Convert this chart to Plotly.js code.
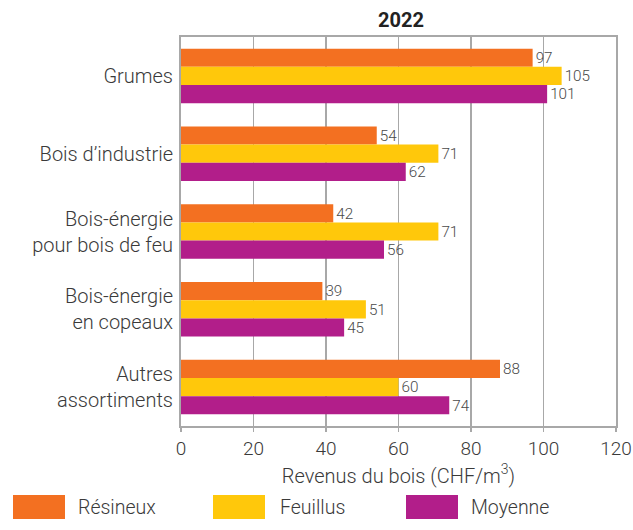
<!DOCTYPE html>
<html><head><meta charset="utf-8">
<script src="https://cdn.plot.ly/plotly-3.0.1.min.js"></script>
<style>body{margin:0;padding:0;background:#fff}#chart{width:633px;height:530px}</style>
</head><body><div id="chart"></div>
<script>
var categories = ["Grumes", "Bois d’industrie", "Bois-énergie<br>pour bois de feu", "Bois-énergie<br>en copeaux", "Autres<br>assortiments"];
var seriesNames = ["Résineux", "Feuillus", "Moyenne"];
var resineux = [97, 54, 42, 39, 88];
var feuillus = [105, 71, 71, 51, 60];
var moyenne = [101, 62, 56, 45, 74];
var xTicks = [0, 20, 40, 60, 80, 100, 120];
var colors = ["#F37021", "#FFC80B", "#B21E8A"];

var W = 633, H = 530, mL = 181, mR = 17, mT = 37, mB = 104;
var pw = W - mL - mR, ph = H - mT - mB;
function px(x){ return (x - mL) / pw; }
function py(y){ return (H - mB - y) / ph; }

var font = "Roboto, 'Open Sans', sans-serif";
var txtCol = "#3a3a3a";
var seriesVals = [resineux, feuillus, moyenne];
var traces = seriesVals.map(function(v, i){
  return {
    type: "bar", orientation: "h", name: seriesNames[i],
    y: categories, x: v, text: v.map(String),
    textposition: "outside", cliponaxis: false,
    textfont: {family: font, size: 16, color: "#4a4a4a", weight: 300},
    marker: {color: colors[i], line: {width: 0}},
    hoverinfo: "x+y", showlegend: false
  };
});

var shapes = [], annotations = [];
var legBoxX = [13, 213, 406], legTextX = [76, 278, 469];
for (var i = 0; i < 3; i++) {
  shapes.push({type: "rect", xref: "paper", yref: "paper",
    x0: px(legBoxX[i]), x1: px(legBoxX[i] + 52), y0: py(519), y1: py(495),
    fillcolor: colors[i], line: {width: 0}});
  annotations.push({xref: "paper", yref: "paper", x: px(legTextX[i]), y: py(507),
    xanchor: "left", yanchor: "middle", showarrow: false, text: seriesNames[i],
    font: {family: font, size: 19.5, color: txtCol, weight: 300}});
}

var layout = {
  width: W, height: H,
  margin: {l: mL, r: mR, t: mT, b: mB, pad: 0},
  paper_bgcolor: "#ffffff", plot_bgcolor: "#ffffff",
  barmode: "group", bargap: 0.3, bargroupgap: 0,
  title: {text: "<b>2022</b>", xref: "paper", x: px(401), xanchor: "center", yref: "container", y: 1 - 20/H, yanchor: "middle",
    font: {family: font, size: 20, color: "#222222"}},
  xaxis: {range: [0, 120], tickvals: xTicks, ticktext: xTicks.map(String),
    showgrid: true, gridcolor: "#a8a8a8", gridwidth: 1.5,
    showline: true, linecolor: "#a8a8a8", linewidth: 2, mirror: true,
    ticks: "outside", ticklen: 4, tickcolor: "#a8a8a8", tickwidth: 1.5,
    zeroline: false,
    tickfont: {family: font, size: 19, color: txtCol, weight: 300},
    title: {text: "Revenus du bois (CHF/m<sup>3</sup>)", standoff: 10,
      font: {family: font, size: 20, color: txtCol, weight: 300}}},
  yaxis: {type: "category", autorange: "reversed",
    showgrid: false, showline: true, linecolor: "#a8a8a8", linewidth: 2, mirror: true,
    ticks: "", ticklabelstandoff: 2, zeroline: false,
    tickfont: {family: font, size: 20, color: txtCol, weight: 300}},
  shapes: shapes, annotations: annotations, showlegend: false
};
Plotly.newPlot("chart", traces, layout, {displayModeBar: false, staticPlot: true});
</script></body></html>
